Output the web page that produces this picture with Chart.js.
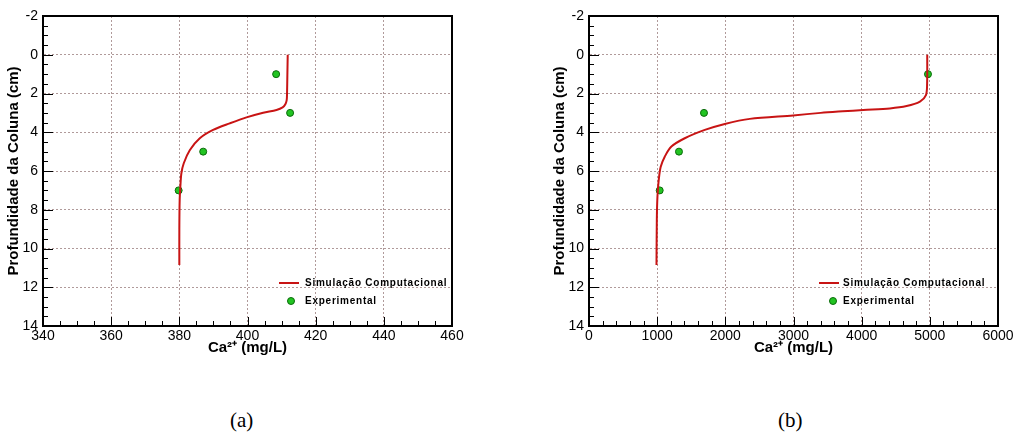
<!DOCTYPE html>
<html>
<head>
<meta charset="utf-8">
<script src="https://cdn.jsdelivr.net/npm/chart.js@4"></script>
<style>
  body { margin: 0; background: #fff; width: 1019px; height: 436px; position: relative; overflow: hidden; }
  .box { position: absolute; top: 0; }
  .cap { position: absolute; top: 408px; font: 21px 'Liberation Serif', 'Times New Roman', serif; color: #000; }
</style>
</head>
<body>
<div class="box" style="left:0"><canvas id="chartA" width="470" height="360"></canvas></div>
<div class="box" style="left:546px"><canvas id="chartB" width="473" height="360"></canvas></div>
<div class="cap" style="left:230px">(a)</div>
<div class="cap" style="left:778px">(b)</div>
<script>
// (a) simulação: Ca2+ (mg/L) x profundidade (cm)
const simA_ca = [411.8, 411.7, 411.6, 411.5, 411.1, 410.3, 408.5, 404.6, 399.7, 394.8, 389.9, 386.0, 383.1, 381.3, 380.6, 380.3, 380.1, 380.0, 380.0];
const simA_prof = [0, 1, 2, 2.34, 2.55, 2.72, 2.85, 2.99, 3.23, 3.54, 3.88, 4.31, 4.92, 5.6, 6.12, 6.81, 7.5, 9, 10.85];
// (a) experimental
const expA_ca = [408.4, 412.5, 387.0, 379.8];
const expA_prof = [1, 3, 5, 7];

// (b) simulação
const simB_ca = [4962, 4960, 4943, 4855, 4659, 4414, 4023, 3720, 3400, 2995, 2359, 1992, 1699, 1405, 1209, 1111, 1052, 1023, 1004, 995, 990];
const simB_prof = [0, 1.5, 2.08, 2.42, 2.65, 2.77, 2.85, 2.92, 3.0, 3.13, 3.31, 3.57, 3.88, 4.31, 4.74, 5.26, 5.78, 6.46, 7.33, 8.5, 10.85];
// (b) experimental
const expB_ca = [4973, 1687, 1320, 1037];
const expB_prof = [1, 3, 5, 7];

// Eixos
const profTicks = { min: -2, max: 14, step: 2, minor: 0.5 };
const eixoA = { min: 340, max: 460, step: 20, minor: 5 };
const eixoB = { min: 0, max: 6000, step: 1000, minor: 200 };

const fonteEixo = "'Liberation Sans', Arial, sans-serif";

// Plugin: moldura, marcas internas e legenda dentro do gráfico
const molduraPlugin = {
  id: 'moldura',
  afterDatasetsDraw(chart, args, opts) {
    const { ctx, chartArea: a, scales } = chart;
    ctx.save();
    ctx.strokeStyle = '#000';
    ctx.lineWidth = 1;
    for (let v = profTicks.min; v <= profTicks.max; v += profTicks.minor) {
      const y = Math.round(scales.y.getPixelForValue(v)) + 0.5;
      const len = v % profTicks.step === 0 ? 10 : 5;
      ctx.beginPath(); ctx.moveTo(a.left, y); ctx.lineTo(a.left + len, y); ctx.stroke();
    }
    const ex = opts.eixo;
    for (let v = ex.min; v <= ex.max; v += ex.minor) {
      const x = Math.round(scales.x.getPixelForValue(v)) + 0.5;
      const len = v % ex.step === 0 ? 9 : 5;
      ctx.beginPath(); ctx.moveTo(x, a.bottom); ctx.lineTo(x, a.bottom - len); ctx.stroke();
    }
    ctx.lineWidth = 2;
    ctx.strokeRect(a.left, a.top, a.right - a.left, a.bottom - a.top);

    // legenda
    const ds = chart.data.datasets;
    const lg = opts.legenda;
    ctx.font = 'bold 10px ' + fonteEixo;
    ctx.letterSpacing = '0.75px';
    ctx.fillStyle = '#000';
    ctx.textBaseline = 'middle';
    let y1 = a.bottom - 43, y2 = a.bottom - 25;
    ctx.strokeStyle = ds[0].borderColor;
    ctx.lineWidth = 2;
    ctx.beginPath(); ctx.moveTo(a.right - lg.linha, y1); ctx.lineTo(a.right - lg.linha + 20, y1); ctx.stroke();
    ctx.fillText(ds[0].label, a.right - lg.texto, y1);
    ctx.beginPath();
    ctx.arc(a.right - lg.ponto, y2, 3.5, 0, Math.PI * 2);
    ctx.fillStyle = ds[1].backgroundColor; ctx.fill();
    ctx.strokeStyle = ds[1].borderColor; ctx.lineWidth = 1; ctx.stroke();
    ctx.fillStyle = '#000';
    ctx.fillText(ds[1].label, a.right - lg.texto, y2);
    ctx.restore();
  }
};

function pares(xs, ys) {
  return xs.map((x, i) => ({ x: x, y: ys[i] }));
}

function criarGrafico(id, simX, simY, expX, expY, eixo, legenda) {
  return new Chart(document.getElementById(id), {
    type: 'scatter',
    data: {
      datasets: [{
        label: 'Simulação Computacional',
        data: pares(simX, simY),
        showLine: true,
        borderColor: '#c81414',
        borderWidth: 2,
        pointRadius: 0,
        tension: 0.3,
        fill: false
      }, {
        label: 'Experimental',
        data: pares(expX, expY),
        pointRadius: 3.5,
        backgroundColor: '#22c422',
        borderColor: '#0b6a0b',
        borderWidth: 1
      }]
    },
    options: {
      responsive: false,
      animation: false,
      layout: { padding: { top: 16, right: legenda.direita, left: 0, bottom: 0 } },
      plugins: {
        legend: { display: false },
        tooltip: { enabled: false },
        moldura: { eixo: eixo, legenda: legenda }
      },
      scales: {
        x: {
          type: 'linear',
          min: eixo.min,
          max: eixo.max,
          afterFit: s => { s.height = 34; },
          ticks: { stepSize: eixo.step, color: '#000', padding: 2, callback: v => String(v), font: { family: fonteEixo, size: 14 } },
          grid: { color: '#b09a9a', drawTicks: false, lineWidth: 1 },
          border: { color: '#000', width: 1, dash: [2, 2] },
          title: { display: true, text: 'Ca²⁺ (mg/L)', color: '#000', padding: { top: 0, bottom: 3 }, font: { family: fonteEixo, size: 15, weight: 'bold' } }
        },
        y: {
          type: 'linear',
          reverse: true,
          min: profTicks.min,
          max: profTicks.max,
          afterFit: s => { s.width = 43; },
          ticks: { stepSize: profTicks.step, color: '#000', padding: 5, font: { family: fonteEixo, size: 14 } },
          grid: { color: '#b09a9a', drawTicks: false, lineWidth: 1 },
          border: { color: '#000', width: 1, dash: [2, 2] },
          title: { display: true, text: 'Profundidade da Coluna (cm)', color: '#000', padding: { top: 5, bottom: 0 }, font: { family: fonteEixo, size: 15, weight: 'bold' } }
        }
      }
    },
    plugins: [molduraPlugin]
  });
}

criarGrafico('chartA', simA_ca, simA_prof, expA_ca, expA_prof, eixoA, { direita: 18, linha: 173, texto: 147, ponto: 161 });
criarGrafico('chartB', simB_ca, simB_prof, expB_ca, expB_prof, eixoB, { direita: 21, linha: 179, texto: 155, ponto: 165 });
</script>
</body>
</html>
